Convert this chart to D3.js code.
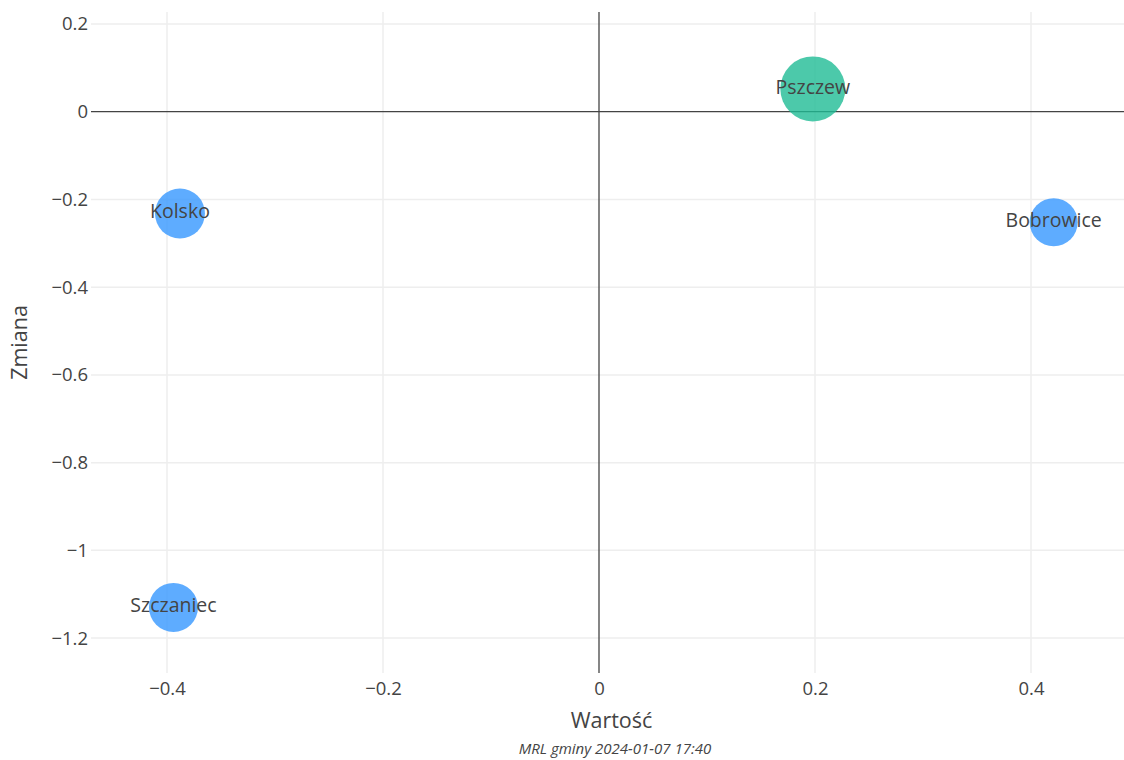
<!DOCTYPE html>
<html>
<head>
<meta charset="utf-8">
<script src="https://cdn.jsdelivr.net/npm/d3@7"></script>
<style>
  html, body { margin: 0; padding: 0; background: #fff; }
  svg { display: block; font-family: "Open Sans", sans-serif; }
</style>
</head>
<body>
<svg id="chart" width="1124" height="760"></svg>
<script>
// ---- data ----
const gminy    = ["Pszczew", "Kolsko", "Bobrowice", "Szczaniec"];
const wartosc  = [0.198, -0.388, 0.421, -0.394];
const zmiana   = [0.052, -0.232, -0.252, -1.130];
const wielkosc = [1.76, 1.04, 0.96, 1.0];
const grupa    = ["A", "B", "B", "B"];
const xTicks   = [-0.4, -0.2, 0, 0.2, 0.4];
const yTicks   = [0.2, 0, -0.2, -0.4, -0.6, -0.8, -1, -1.2];
const xTitle   = "Wartość";
const yTitle   = "Zmiana";
const podpis   = "MRL gminy 2024-01-07 17:40";

// ---- layout ----
const W = 1124, H = 760;
const plot = { left: 91, right: 1124, top: 12, bottom: 673 };
const svg = d3.select("#chart");

const x = d3.scaleLinear().domain([-0.47037, 0.48611]).range([plot.left, plot.right]);
const y = d3.scaleLinear().domain([0.22727, -1.27955]).range([plot.top, plot.bottom]);
const r = d3.scaleSqrt().domain([0, 1]).range([0, 24.5]);
const color = d3.scaleOrdinal().domain(["A", "B"]).range(["#1fbb95", "#3697ff"]);

const fmt = v => v === 0 ? "0" : d3.format("")(v).replace("-", "\u2212");

// grid
svg.append("g").selectAll("line").data(xTicks.filter(d => d !== 0)).join("line")
  .attr("x1", d => x(d)).attr("x2", d => x(d))
  .attr("y1", plot.top).attr("y2", plot.bottom)
  .attr("stroke", "#eeeeee").attr("stroke-width", 1.5);
svg.append("g").selectAll("line").data(yTicks.filter(d => d !== 0)).join("line")
  .attr("x1", plot.left).attr("x2", plot.right)
  .attr("y1", d => y(d)).attr("y2", d => y(d))
  .attr("stroke", "#eeeeee").attr("stroke-width", 1.5);

// zero lines
svg.append("line").attr("x1", x(0)).attr("x2", x(0)).attr("y1", plot.top).attr("y2", plot.bottom)
  .attr("stroke", "#444").attr("stroke-width", 1.3);
svg.append("line").attr("x1", plot.left).attr("x2", plot.right).attr("y1", y(0)).attr("y2", y(0))
  .attr("stroke", "#444").attr("stroke-width", 1.3);

// axes via d3 axis generators
const xAxis = d3.axisBottom(x).tickValues(xTicks).tickSize(0).tickPadding(0).tickFormat(fmt);
const gx = svg.append("g").attr("transform", `translate(0,${plot.bottom + 9})`).call(xAxis);
gx.select(".domain").remove();
gx.selectAll("text").attr("fill", "#444").attr("font-size", 18.5).attr("dy", "0.71em")
  .attr("font-family", "'Open Sans', sans-serif");

const yAxis = d3.axisLeft(y).tickValues(yTicks).tickSize(0).tickPadding(0).tickFormat(fmt);
const gy = svg.append("g").attr("transform", `translate(${plot.left - 3},0)`).call(yAxis);
gy.select(".domain").remove();
gy.selectAll("text").attr("fill", "#444").attr("font-size", 18.5)
  .attr("font-family", "'Open Sans', sans-serif");

// bubbles
const pts = gminy.map((g, i) => ({ g, x: wartosc[i], y: zmiana[i], s: wielkosc[i], k: grupa[i] }));
svg.append("g").selectAll("circle").data(pts).join("circle")
  .attr("cx", d => x(d.x)).attr("cy", d => y(d.y)).attr("r", d => r(d.s))
  .attr("fill", d => color(d.k)).attr("fill-opacity", 0.8);
svg.append("g").selectAll("text").data(pts).join("text")
  .attr("x", d => x(d.x)).attr("y", d => y(d.y)).attr("dy", "0.25em")
  .attr("text-anchor", "middle").attr("fill", "#444").attr("font-size", 19.5)
  .text(d => d.g);

// titles
svg.append("text").attr("x", (plot.left + plot.right) / 2 + 4).attr("y", 728)
  .attr("text-anchor", "middle").attr("fill", "#444").attr("font-size", 21.5).text(xTitle);
svg.append("text").attr("transform", `translate(27,${(plot.top + plot.bottom) / 2}) rotate(-90)`)
  .attr("text-anchor", "middle").attr("fill", "#444").attr("font-size", 21.5).text(yTitle);
svg.append("text").attr("x", 615).attr("y", 754)
  .attr("text-anchor", "middle").attr("fill", "#444").attr("font-size", 15)
  .attr("font-style", "italic").text(podpis);
</script>
</body>
</html>
